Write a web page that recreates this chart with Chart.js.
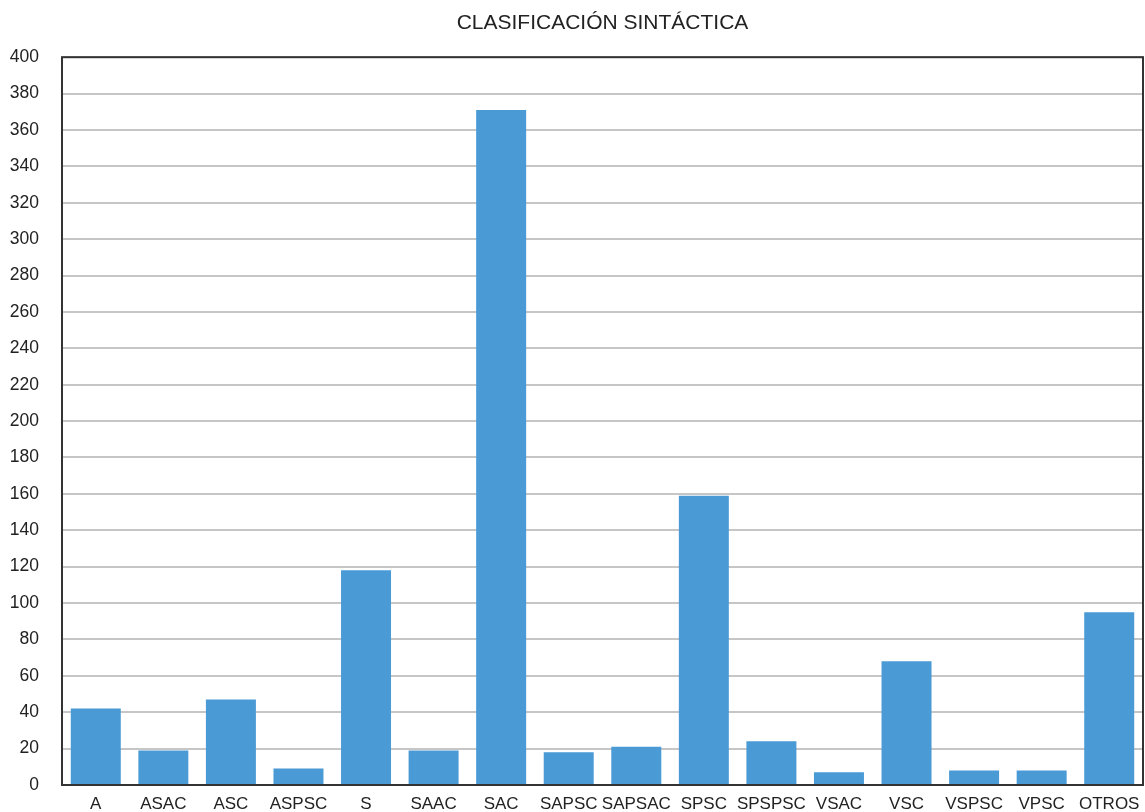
<!DOCTYPE html>
<html lang="es">
<head>
<meta charset="UTF-8">
<title>Clasificación sintáctica</title>
<script src="https://cdn.jsdelivr.net/npm/chart.js"></script>
<style>
  html, body { margin: 0; padding: 0; background: #fff; overflow: hidden; }
  canvas { display: block; }
</style>
</head>
<body>
<canvas id="chart" width="1145" height="812"></canvas>
<script>
const categories = ["A", "ASAC", "ASC", "ASPSC", "S", "SAAC", "SAC", "SAPSC", "SAPSAC", "SPSC", "SPSPSC", "VSAC", "VSC", "VSPSC", "VPSC", "OTROS"];
const values = [42, 19, 47, 9, 118, 19, 371, 18, 21, 159, 24, 7, 68, 8, 8, 95];
const yMin = 0, yMax = 400, yStep = 20;

const FONT = 'Liberation Sans, Arial, sans-serif';

// marco alrededor del área del gráfico
const frame = {
  id: 'frame',
  afterDraw(chart) {
    const a = chart.chartArea, ctx = chart.ctx;
    ctx.save();
    ctx.strokeStyle = '#333';
    ctx.lineWidth = 2;
    ctx.strokeRect(a.left, a.top, a.right - a.left, a.bottom - a.top);
    ctx.restore();
  }
};

new Chart(document.getElementById('chart'), {
  type: 'bar',
  data: {
    labels: categories,
    datasets: [{
      data: values,
      backgroundColor: '#4a9ad6',
      categoryPercentage: 1,
      barPercentage: 0.74
    }]
  },
  options: {
    responsive: false,
    animation: false,
    layout: { padding: { top: 0, right: 2, bottom: 0, left: 0 } },
    plugins: {
      legend: { display: false },
      tooltip: { enabled: false },
      title: {
        display: true,
        fullSize: false,
        text: 'CLASIFICACIÓN SINTÁCTICA',
        color: '#222',
        font: { family: FONT, size: 21, weight: 'normal' },
        padding: { top: 11, bottom: 21 }
      }
    },
    scales: {
      x: {
        afterFit(s) { s.height = 27; },
        grid: { color: 'rgba(0,0,0,0)', tickColor: 'rgba(0,0,0,0)', drawTicks: true, tickLength: 9 },
        border: { display: false },
        ticks: {
          color: '#222',
          padding: 0,
          maxRotation: 0,
          autoSkip: false,
          font: { family: FONT, size: 17 }
        }
      },
      y: {
        min: yMin,
        max: yMax,
        afterFit(s) { s.width = 62; },
        grid: { color: '#c6c6c6', lineWidth: 2, drawTicks: true, tickLength: 23, tickColor: 'rgba(0,0,0,0)' },
        border: { display: false },
        ticks: {
          stepSize: yStep,
          color: '#222',
          padding: 0,
          font: { family: FONT, size: 17.5 }
        }
      }
    }
  },
  plugins: [frame]
});
</script>
</body>
</html>
